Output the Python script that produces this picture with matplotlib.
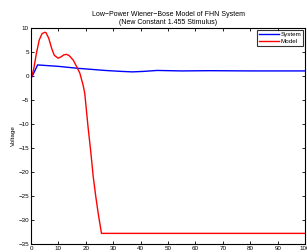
import matplotlib
matplotlib.use("Agg")
import matplotlib.pyplot as plt
import numpy as np

plt.rcParams['font.family'] = ['Liberation Sans', 'DejaVu Sans']

# system response (blue)
sys_t = [0, 1, 2.4, 10, 17, 27, 33, 37, 41, 46, 55, 65, 80, 100]
sys_v = [-0.5, 0.6, 2.3, 2.0, 1.6, 1.15, 0.95, 0.85, 0.95, 1.15, 1.05, 1.1, 1.05, 1.05]

# model response (red)
mod_t = [0, 1, 2, 3, 4, 5, 5.5, 6.5, 7.5, 8.5, 9.9, 11, 12, 13, 14, 15.4, 16.5, 17.8,
         19, 19.6, 20.8, 21.8, 22.7, 23.6, 24.5, 25.7, 40, 60, 80, 100]
mod_v = [-0.6, 1.5, 4.8, 7.5, 8.8, 9.1, 9.0, 7.8, 5.8, 4.3, 3.7, 4.0, 4.4, 4.5, 4.2, 3.3, 2.1, 0.6,
         -1.9, -3.6, -10.6, -15.8, -21.0, -25.0, -28.6, -32.8, -32.8, -32.8, -32.8, -32.8]

x_ticks = list(range(0, 101, 10))
y_ticks = list(range(-35, 11, 5))

fig = plt.figure(figsize=(3.07, 2.52), dpi=100)
ax = fig.add_axes([0.101, 0.032, 0.893, 0.857])

ax.plot(sys_t, sys_v, color='#0000ff', lw=1.0, label='System')
ax.plot(mod_t, mod_v, color='#ff0000', lw=1.0, label='Model')

ax.set_xlim(0, 100)
ax.set_ylim(-35, 10)
ax.set_xticks(x_ticks)
ax.set_yticks(y_ticks)
ax.tick_params(direction='in', top=True, right=True, labelsize=4.5, length=2.5, width=0.6, pad=1.5)
for s in ax.spines.values():
    s.set_linewidth(0.8)

ax.set_ylabel('Voltage', fontsize=4.5, labelpad=2)
ax.set_title('Low\u2212Power Wiener\u2212Bose Model of FHN System\n(New Constant 1.455 Stimulus)',
             fontsize=5, pad=3, linespacing=1.1)

leg = ax.legend(loc='upper right', fontsize=4.5, frameon=True, fancybox=False,
                edgecolor='black', handlelength=3.2, borderpad=0.3, labelspacing=0.2,
                handletextpad=0.3, borderaxespad=0.3)
leg.get_frame().set_linewidth(0.8)

fig.savefig('out.png', dpi=100)
